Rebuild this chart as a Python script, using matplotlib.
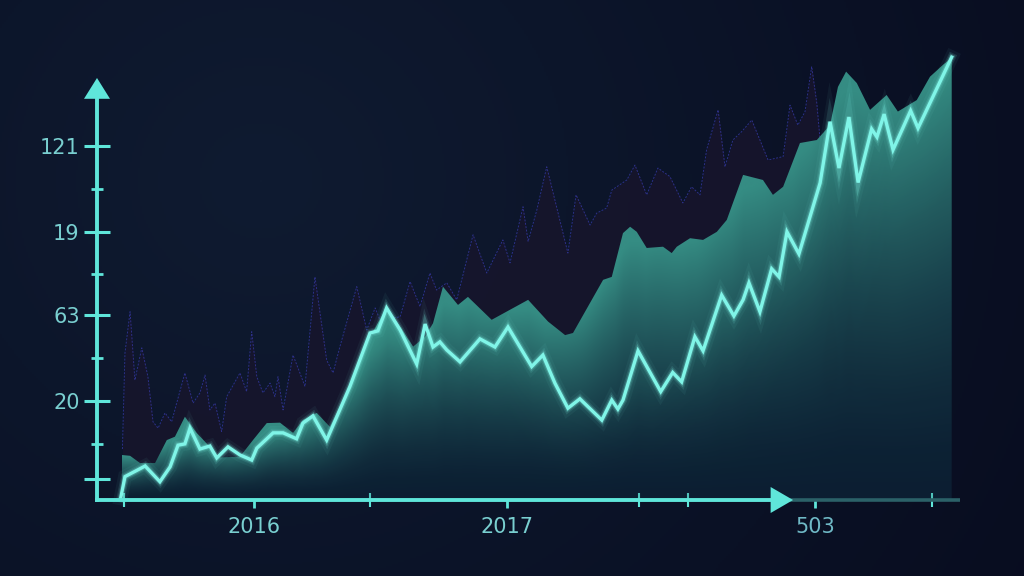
import numpy as np
import matplotlib
matplotlib.use("Agg")
import matplotlib.pyplot as plt
from matplotlib.patches import PathPatch
from matplotlib.colors import to_rgb

# ---------------- data (x in fractional years, y in chart units) ----------------
line_x = [2015.477, 2015.494, 2015.573, 2015.631, 2015.671, 2015.702, 2015.729, 2015.749, 2015.788, 2015.827,
          2015.854, 2015.898, 2015.945, 2015.991, 2016.011, 2016.075, 2016.114, 2016.167, 2016.192, 2016.231,
          2016.285, 2016.376, 2016.455, 2016.486, 2016.520, 2016.573, 2016.638, 2016.671, 2016.702, 2016.729,
          2016.756, 2016.808, 2016.886, 2016.945, 2016.996, 2017.089, 2017.133, 2017.180, 2017.231, 2017.278,
          2017.364, 2017.403, 2017.427, 2017.447, 2017.506, 2017.595, 2017.642, 2017.677, 2017.729, 2017.761,
          2017.834, 2017.882, 2017.918, 2017.941, 2017.984, 2018.030, 2018.059, 2018.090, 2018.137, 2018.220,
          2018.259, 2018.294, 2018.333, 2018.369, 2018.422, 2018.443, 2018.471, 2018.506, 2018.575, 2018.604,
          2018.736]
line_y = [0.4, 5.5, 8.0, 4.3, 7.8, 12.9, 13.2, 16.9, 12.0, 12.7,
          9.9, 12.5, 10.6, 9.4, 12.2, 15.8, 15.8, 14.4, 18.1, 19.8,
          14.1, 26.7, 39.3, 39.8, 45.2, 40.0, 32.0, 41.4, 36.0, 37.2,
          35.3, 32.5, 37.9, 36.0, 40.7, 31.4, 34.1, 27.5, 21.6, 23.8,
          18.8, 23.5, 21.4, 23.5, 35.1, 25.5, 30.0, 27.8, 38.4, 35.1,
          48.2, 43.3, 47.1, 51.1, 44.3, 54.4, 52.5, 63.1, 57.9, 74.6,
          89.0, 78.1, 90.1, 74.7, 87.3, 85.4, 90.8, 82.4, 91.6, 87.5,
          104.2]

env_x = [2015.481, 2015.514, 2015.553, 2015.612, 2015.658, 2015.690, 2015.729, 2015.775, 2015.827, 2015.867,
         2015.945, 2015.996, 2016.050, 2016.102, 2016.153, 2016.192, 2016.246, 2016.298, 2016.349, 2016.416,
         2016.455, 2016.520, 2016.573, 2016.624, 2016.671, 2016.702, 2016.741, 2016.800, 2016.839, 2016.932,
         2017.075, 2017.153, 2017.220, 2017.251, 2017.369, 2017.403, 2017.447, 2017.475, 2017.501, 2017.540,
         2017.604, 2017.638, 2017.658, 2017.710, 2017.761, 2017.815, 2017.854, 2017.918, 2017.996, 2018.035,
         2018.075, 2018.141, 2018.207, 2018.259, 2018.290, 2018.322, 2018.364, 2018.416, 2018.481, 2018.525,
         2018.599, 2018.651, 2018.702, 2018.736]
env_y = [10.6, 10.4, 8.7, 8.7, 14.1, 14.9, 19.6, 15.8, 12.5, 10.0,
         10.2, 14.1, 18.1, 18.2, 15.8, 18.8, 20.5, 17.2, 23.5, 32.2,
         38.4, 45.2, 40.8, 36.1, 38.4, 41.6, 50.2, 45.9, 47.8, 42.4,
         47.1, 42.0, 38.8, 39.3, 51.8, 52.5, 62.8, 64.3, 63.1, 59.3,
         59.6, 58.1, 59.6, 61.6, 61.2, 63.1, 65.9, 76.5, 75.3, 71.8,
         73.7, 84.0, 84.7, 88.2, 97.2, 100.8, 98.1, 91.8, 95.3, 91.4,
         94.1, 99.6, 102.4, 104.0]

dot_x = [2015.484, 2015.494, 2015.514, 2015.533, 2015.560, 2015.584, 2015.604, 2015.624, 2015.651, 2015.677,
         2015.729, 2015.761, 2015.788, 2015.808, 2015.827, 2015.847, 2015.873, 2015.893, 2015.945, 2015.971,
         2015.991, 2016.011, 2016.035, 2016.063, 2016.082, 2016.094, 2016.114, 2016.153, 2016.180, 2016.200,
         2016.239, 2016.285, 2016.310, 2016.337, 2016.403, 2016.442, 2016.475, 2016.494, 2016.573, 2016.612,
         2016.651, 2016.690, 2016.716, 2016.756, 2016.795, 2016.859, 2016.913, 2016.976, 2017.004, 2017.055,
         2017.075, 2017.109, 2017.148, 2017.231, 2017.263, 2017.318, 2017.344, 2017.383, 2017.403, 2017.462,
         2017.494, 2017.540, 2017.584, 2017.631, 2017.682, 2017.716, 2017.749, 2017.775, 2017.820, 2017.847,
         2017.878, 2017.913, 2017.952, 2018.016, 2018.075, 2018.102, 2018.133, 2018.161, 2018.187, 2018.207,
         2018.220]
dot_y = [12.0, 34.6, 44.3, 28.2, 35.8, 29.0, 18.4, 16.9, 20.5, 18.4,
         29.9, 22.8, 25.2, 29.4, 21.2, 22.8, 16.1, 24.3, 29.9, 25.5,
         39.6, 29.0, 25.2, 27.5, 24.3, 29.0, 21.2, 34.1, 29.9, 26.7,
         52.5, 32.9, 29.9, 36.1, 50.2, 40.0, 45.2, 42.4, 43.1, 51.4,
         45.5, 53.4, 49.4, 51.1, 47.1, 62.4, 53.4, 61.2, 55.8, 69.0,
         60.8, 68.2, 78.4, 58.1, 71.8, 64.7, 67.5, 68.7, 72.9, 75.3,
         78.8, 71.8, 78.1, 76.1, 69.9, 73.7, 71.8, 82.4, 91.8, 78.4,
         84.7, 86.7, 89.4, 80.0, 80.8, 92.9, 88.2, 91.4, 102.0, 93.4,
         84.7]

y_tick_pos = [4.9, 23.3, 43.5, 63.1, 83.3]
y_tick_labels = ["", "20", "63", "19", "121"]
y_minor_pos = [13.2, 33.4, 53.2, 73.2]
x_tick_pos = [2016.0, 2016.992, 2018.2]
x_tick_labels = ["2016", "2017", "503"]
x_minor_pos = [2015.49, 2016.455, 2017.51, 2017.70, 2018.66]

# ---------------- layout / style ----------------
XMIN, XMAX = 2016 - 254 / 255, 2016 + 770 / 255
YMIN, YMAX = -76 / 4.25, 500 / 4.25
X_AX = 2016 + (97 - 254) / 255
AXIS_C = "#5fe6da"
LINE_C = "#80f5e8"
LABEL_C = "#79cfd0"

fig = plt.figure(figsize=(10.24, 5.76), dpi=100)
ax = fig.add_axes([0, 0, 1, 1])

# background radial gradient
h, w = 288, 512
yy, xx = np.mgrid[0:h, 0:w]
d = np.sqrt(((xx - 130) / w) ** 2 + ((yy - 90) / h * 0.6) ** 2) / 0.9
d = np.clip(d, 0, 1)
c0, c1 = np.array(to_rgb("#0f1b31")), np.array(to_rgb("#080c1f"))
bg = c0[None, None, :] * (1 - d[..., None]) + c1[None, None, :] * d[..., None]
ax.imshow(bg, extent=[XMIN, XMAX, YMIN, YMAX], origin="upper", aspect="auto", zorder=0)


def gradient_fill(x, y, top, bottom, power, alpha, z, smooth=60):
    x = np.asarray(x); y = np.asarray(y)
    poly = ax.fill_between(x, 0, y, facecolor="none", edgecolor="none")
    patch = PathPatch(poly.get_paths()[0], transform=ax.transData,
                      facecolor="none", edgecolor="none")
    ax.add_patch(patch)
    gx = np.linspace(x.min(), x.max(), 700)
    gy = np.linspace(0, y.max(), 400)
    env = np.interp(gx, x, y)
    k = np.ones(smooth) / smooth
    pad = np.concatenate([np.full(smooth, env[0]), env, np.full(smooth, env[-1])])
    senv = np.convolve(pad, k, mode="same")[smooth:-smooth]
    senv = 0.6 * senv + 0.4 * np.maximum(senv, env)
    t = np.clip(gy[:, None] / np.maximum(senv[None, :], 1e-3), 0, 1) ** power
    ct, cb = np.array(to_rgb(top)), np.array(to_rgb(bottom))
    img = np.zeros((len(gy), len(gx), 4))
    img[..., :3] = cb * (1 - t[..., None]) + ct * t[..., None]
    img[..., 3] = alpha
    im = ax.imshow(img, extent=[x.min(), x.max(), 0, y.max()], origin="lower",
                   aspect="auto", zorder=z, interpolation="bilinear")
    im.set_clip_path(patch)


# dark purple band under the dotted series
ax.fill_between(dot_x, 0, dot_y, color="#17152c", alpha=0.85, lw=0, zorder=1)
ax.plot(dot_x, dot_y, color="#3437a0", lw=0.7, ls=(0, (2, 1.5)), alpha=0.8, zorder=1.2)

# teal envelope area
gradient_fill(env_x, env_y, "#358c83", "#0c1e32", 1.5, 1.0, 1.5)
# subtle lighter area under the main line
gradient_fill(line_x, line_y, "#3a9c8c", "#0c2133", 2.5, 0.18, 1.6, smooth=110)

# main line with glow
for lw, a in [(10, 0.05), (6, 0.12), (4, 0.25)]:
    ax.plot(line_x, line_y, color=LINE_C, lw=lw, alpha=a, solid_joinstyle="miter", zorder=3)
ax.plot(line_x, line_y, color=LINE_C, lw=2.4, solid_joinstyle="miter", zorder=3.2)

# axes
for s in ["top", "right"]:
    ax.spines[s].set_visible(False)
ax.spines["left"].set_position(("data", X_AX))
ax.spines["left"].set_bounds(0, 95.5)
ax.spines["bottom"].set_position(("data", 0))
ax.spines["bottom"].set_bounds(X_AX, 2018.04)
for s in ["left", "bottom"]:
    ax.spines[s].set_color(AXIS_C)
    ax.spines[s].set_linewidth(2.8)
    ax.spines[s].set_zorder(4)

# faint extension of x axis
ax.plot([2018.04, 2018.77], [0, 0], color="#2b6168", lw=2.6, zorder=2, solid_capstyle="butt")

# arrow heads
ax.fill([X_AX - 0.051, X_AX + 0.051, X_AX], [94.4, 94.4, 99.3], color=AXIS_C, lw=0, zorder=4)
ax.fill([2018.026, 2018.026, 2018.114], [-3.06, 3.06, 0], color=AXIS_C, lw=0, zorder=4)

ax.set_yticks(y_tick_pos, y_tick_labels)
ax.set_yticks(y_minor_pos, minor=True)
ax.set_xticks(x_tick_pos, x_tick_labels)
ax.set_xticks(x_minor_pos, minor=True)
ax.tick_params(axis="y", which="major", direction="inout", length=19, width=2.2,
               color=AXIS_C, labelcolor=LABEL_C, labelsize=15, pad=3)
ax.tick_params(axis="y", which="minor", direction="inout", length=8.6, width=2.0, color=AXIS_C)
ax.tick_params(axis="x", which="major", direction="out", length=6, width=2.0,
               color=AXIS_C, labelcolor=LABEL_C, labelsize=15, pad=6)
ax.tick_params(axis="x", which="minor", direction="inout", length=10, width=1.5, color=AXIS_C)
for tk in ax.xaxis.get_major_ticks()[2:]:
    tk.tick1line.set_color("#2f6f72")
    tk.label1.set_color("#6fb9c6")
for tk in ax.xaxis.get_minor_ticks()[4:]:
    tk.tick1line.set_color("#2f6f72")

ax.set_xlim(XMIN, XMAX)
ax.set_ylim(YMIN, YMAX)
ax.set_facecolor("#0b1226")
fig.savefig("out.png", dpi=100, facecolor="#0b1226")
